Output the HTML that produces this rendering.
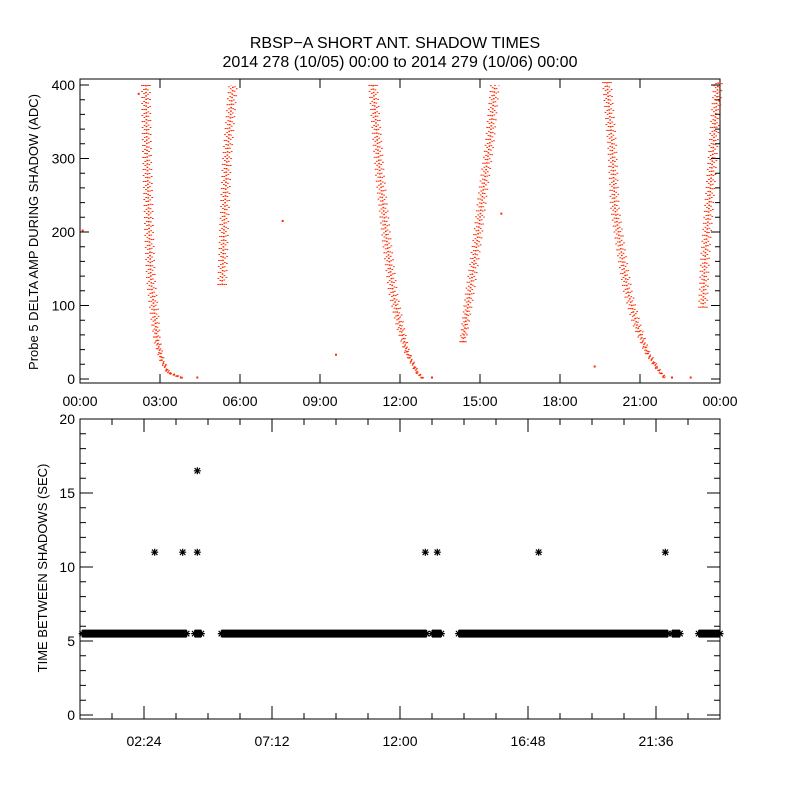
<!DOCTYPE html>
<html><head><meta charset="utf-8"><style>
body{margin:0;background:#fff}
svg text{font-family:"Liberation Sans",sans-serif;fill:#000}
</style></head><body>
<svg id="c" width="800" height="800" viewBox="0 0 800 800" xmlns="http://www.w3.org/2000/svg">
<rect width="800" height="800" fill="#fff"/>
<text x="395" y="48" font-size="16" text-anchor="middle">RBSP−A SHORT ANT. SHADOW TIMES</text>
<text x="400" y="67" font-size="16" text-anchor="middle">2014 278 (10/05) 00:00 to 2014 279 (10/06) 00:00</text>
<text transform="translate(38,232) rotate(-90)" font-size="13" text-anchor="middle">Probe 5 DELTA AMP DURING SHADOW (ADC)</text>
<text transform="translate(47,568) rotate(-90)" font-size="13" text-anchor="middle">TIME BETWEEN SHADOWS (SEC)</text>
<g id="topPanel"></g>
<g id="botPanel"></g>
</svg>
<script>
// ---- data: top panel (hours, ADC) ----
const pass1 = [[2.47,400],[2.51,312],[2.59,203],[2.66,135],[2.78,94],[2.89,53],[3.07,26],[3.3,9],[3.86,1]];
const pass2 = [[5.33,128],[5.4,203],[5.51,298],[5.74,400]];
const pass3 = [[10.99,400],[11.25,277],[11.51,186],[11.74,118],[12.0,73],[12.26,37],[12.64,9],[12.86,1]];
const pass4 = [[14.36,50],[14.62,118],[14.89,186],[15.11,254],[15.37,322],[15.56,400]];
const pass5 = [[19.76,404],[19.95,322],[20.06,233],[20.33,165],[20.55,118],[20.89,73],[21.26,37],[21.64,15],[21.94,1]];
const pass6 = [[23.36,97],[23.44,165],[23.63,254],[23.81,346],[23.93,404]];
const strayDots = [[0.1,202],[2.2,388],[4.4,2],[7.6,215],[9.6,33],[13.2,2],[15.8,225],[19.3,17],[22.2,2],[22.9,2]];
const topYTicks = [0,100,200,300,400];
const topXLabels = ["00:00","03:00","06:00","09:00","12:00","15:00","18:00","21:00","00:00"];
// ---- data: bottom panel ----
const bandValue = 5.5;
const bandSegments = [[0.08,4.0],[4.3,4.55],[5.3,13.0],[13.2,13.55],[14.2,22.05],[22.2,22.5],[23.2,24.0]];
const outliers = [[2.8,11],[3.85,11],[4.4,11],[4.4,16.5],[12.95,11],[13.4,11],[17.2,11],[21.95,11]];
const botYTicks = [0,5,10,15,20];
const botXLabels = ["02:24","07:12","12:00","16:48","21:36"];

const NS="http://www.w3.org/2000/svg";
function mk(parent,tag,attrs){const e=document.createElementNS(NS,tag);for(const k in attrs)e.setAttribute(k,attrs[k]);parent.appendChild(e);return e;}
const L=80,R=720;
const xH=h=>L+h*(R-L)/24;
const yT=v=>379-v*0.735;
const yB=v=>715-v*14.8;
const topG=document.getElementById('topPanel'), botG=document.getElementById('botPanel');

let f=mk(topG,'rect',{x:L,y:79,width:R-L,height:304,fill:'none',stroke:'#000','stroke-width':1});


for(let v=0;v<=400;v+=20){const y=yT(v);const len=v%100===0?9:5;
 let t=mk(topG,'path',{d:`M${L},${y}h${len}M${R},${y}h${-len}`,stroke:'#000'});
 
 }
topYTicks.forEach(v=>{let t=mk(topG,'text',{x:L-5,y:yT(v)+5,'font-size':14,'text-anchor':'end'});t.textContent=v;
 
 });
topXLabels.forEach((s,i)=>{const x=xH(i*3);
 let t=mk(topG,'path',{d:`M${x},383v-9M${x},79v9`,stroke:'#000'});
 
 
 let l=mk(topG,'text',{x:x,y:406,'font-size':14,'text-anchor':'middle'});l.textContent=s;
 
 });
[pass1,pass2,pass3,pass4,pass5,pass6].forEach((p,i)=>{
 [[-4,'1 5'],[-2,'1 3'],[0,'1.4 2'],[2,'1 3.4'],[4,'1 6']].forEach(o=>{
  let pl=mk(topG,'polyline',{points:p.map(d=>(xH(d[0])+o[0]*Math.min(1,d[1]/120+0.3))+','+yT(d[1])).join(' '),fill:'none',stroke:'#ff2a00','stroke-width':1.7,'stroke-dasharray':o[1]});
  
  });
});
strayDots.forEach(d=>{let r=mk(topG,'rect',{x:xH(d[0])-1,y:yT(d[1])-1,width:2,height:2,fill:'#ff2a00'});
 
 });

let f2=mk(botG,'rect',{x:L,y:419,width:R-L,height:300,fill:'none',stroke:'#000','stroke-width':1});


for(let v=0;v<=20;v++){const y=yB(v);const len=v%5===0?13:6;
 let t=mk(botG,'path',{d:`M${L},${y}h${len}M${R},${y}h${-len}`,stroke:'#000'});
 
 }
botYTicks.forEach(v=>{let t=mk(botG,'text',{x:L-5,y:yB(v)+5,'font-size':14,'text-anchor':'end'});t.textContent=v;
 
 });
for(let k=1;k<20;k++){const x=xH(k*1.2);const len=k%4===2?13:6;
 let t=mk(botG,'path',{d:`M${x},719v${-len}M${x},419v${len}`,stroke:'#000'});
 
 }
botXLabels.forEach((s,i)=>{let l=mk(botG,'text',{x:xH(2.4+i*4.8),y:746,'font-size':14,'text-anchor':'middle'});l.textContent=s;
 
 });
function star(x,y,name){let s=mk(botG,'path',{d:`M${x-3.5},${y}h7M${x},${y-3.5}v7M${x-2.7},${y-2.7}l5.4,5.4M${x-2.7},${y+2.7}l5.4,-5.4`,stroke:'#000','stroke-width':1.2});
 
 }
bandSegments.forEach(sg=>{const x0=xH(sg[0]),x1=xH(sg[1]),y=yB(bandValue);
 let r=mk(botG,'rect',{x:x0,y:y-4,width:Math.max(1,x1-x0),height:8,fill:'#000'});
 
 
 star(x0,y,'interval-star');star(x1,y,'interval-star');});
outliers.forEach(d=>star(xH(d[0]),yB(d[1]),'interval-outlier'));
</script>
</body></html>
